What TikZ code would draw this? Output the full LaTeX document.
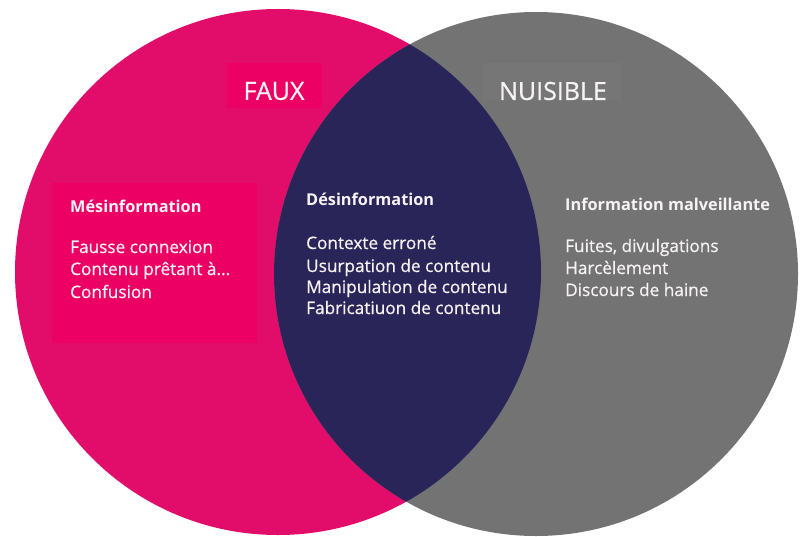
\documentclass[tikz,border=0pt]{standalone}
\usepackage{fontspec}
\setmainfont{Open Sans}
\newfontfamily\medfont[FakeBold=0.6]{Open Sans}
\definecolor{pinkc}{HTML}{E20C6A}
\definecolor{pinkbox}{HTML}{EC0064}
\definecolor{navy}{HTML}{2A2559}
\definecolor{grayc}{HTML}{737373}
\definecolor{graybox}{HTML}{767676}
\definecolor{txt}{HTML}{F7F3F5}
\begin{document}
\begin{tikzpicture}[x=1pt,y=-1pt,
  title/.style={anchor=base west,inner sep=0pt,text=txt,font=\fontsize{16.3}{19}\selectfont\bfseries},
  item/.style={anchor=base west,inner sep=0pt,text=txt,font=\medfont\fontsize{17.2}{20}\selectfont},
  head/.style={anchor=center,inner sep=0pt,text=txt,font=\medfont\fontsize{25}{30}\selectfont}]
\useasboundingbox (0,0) rectangle (802,537);
\fill[pinkc] (278,272) circle (263);
\fill[grayc] (536,274) circle (262);
\begin{scope}
  \clip (278,272) circle (263);
  \fill[navy] (536,274) circle (262);
\end{scope}
\fill[pinkbox] (52,183) rectangle (257,343);
\fill[pinkbox] (227,63) rectangle (322,108);
\fill[graybox] (483,63) rectangle (622,100);
% headings
\node[head] (faux) at (274,91) {FAUX};
\node[head] (nuis) at (553,91) {NUISIBLE};
% left
\node[title] (mes) at (70,213) {Mésinformation};
\node[item] (m1) at (70,253) {Fausse connexion};
\node[item] (m2) at (70,275) {Contenu prêtant à...};
\node[item] (m3) at (70,298) {Confusion};
% middle
\node[title] (des) at (306,206) {Désinformation};
\node[item] (d1) at (306,249) {Contexte erroné};
\node[item] (d2) at (306,272) {Usurpation de contenu};
\node[item] (d3) at (306,293) {Manipulation de contenu};
\node[item] (d4) at (306,314) {Fabricatiuon de contenu};
% right
\node[title] (mal) at (565,211) {Information malveillante};
\node[item] (r1) at (565,252) {Fuites, divulgations};
\node[item] (r2) at (565,274) {Harcèlement};
\node[item] (r3) at (565,296) {Discours de haine};
\end{tikzpicture}
\end{document}
